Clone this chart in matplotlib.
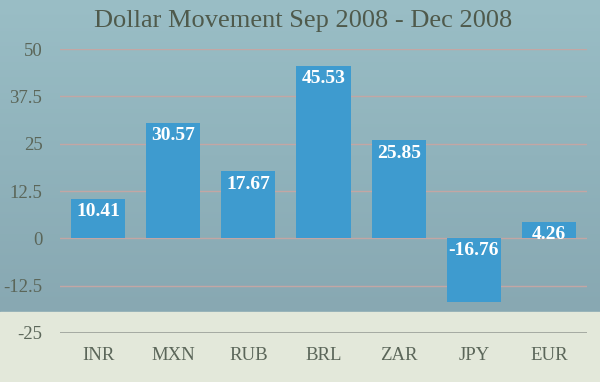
import numpy as np
import matplotlib.pyplot as plt
from matplotlib.colors import LinearSegmentedColormap

currencies = ['INR', 'MXN', 'RUB', 'BRL', 'ZAR', 'JPY', 'EUR']
movement = [10.41, 30.57, 17.67, 45.53, 25.85, -16.76, 4.26]
yticks = [-25, -12.5, 0, 12.5, 25, 37.5, 50]
ytick_labels = ['-25', '-12.5', '0', '12.5', '25', '37.5', '50']

serif = ['Liberation Serif', 'DejaVu Serif']
text_col = '#5b6659'

fig = plt.figure(figsize=(6, 3.82), dpi=100)

# --背景：上部蓝灰渐变，下部米色
bg = fig.add_axes([0, 0, 1, 1], zorder=0)
bg_cmap = LinearSegmentedColormap.from_list('bg', ['#9abec6', '#90b3bc', '#88a8b2'])
grad = np.linspace(0, 1, 256).reshape(-1, 1)
bg.imshow(grad, cmap=bg_cmap, aspect='auto', extent=[0, 1, 0.183, 1], origin='upper')
bg.axhspan(0, 0.183, color='#e3e8da')
bg.set_xlim(0, 1)
bg.set_ylim(0, 1)
bg.axis('off')

ax = fig.add_axes([0.1008, 0.1283, 0.8767, 0.7434], zorder=1)
ax.patch.set_alpha(0)

x = np.arange(len(currencies))
bars = ax.bar(x, movement, width=0.72, color='#3e9bcf', zorder=3)

for xi, v in zip(x, movement):
    ax.annotate(f'{v:.2f}', xy=(xi, max(v, 0)), xytext=(0, -3),
                textcoords='offset points', ha='center', va='top',
                color='white', fontsize=14, fontweight='bold',
                family=serif, zorder=4)

ax.set_xlim(-0.5, len(currencies) - 0.5)
ax.set_ylim(-25, 50)
ax.set_yticks(yticks)
ax.set_yticklabels(ytick_labels)
ax.set_xticks(x)
ax.set_xticklabels(currencies)
ax.tick_params(length=0, labelsize=13.5, labelcolor=text_col)
ax.tick_params(axis='y', pad=13)
ax.tick_params(axis='x', pad=10)
for lab in ax.get_xticklabels() + ax.get_yticklabels():
    lab.set_family(serif)

for t in yticks[1:]:
    ax.axhline(t, color='#c3a6a4', lw=1, zorder=1)
ax.axhline(-25, color='#9a9f98', lw=1.2, zorder=1)
for s in ax.spines.values():
    s.set_visible(False)

fig.text(0.505, 0.945, 'Dollar Movement Sep 2008 - Dec 2008', ha='center',
         va='center', fontsize=19, color='#4f5a4c', family=serif)

plt.savefig('out.png', dpi=100)
